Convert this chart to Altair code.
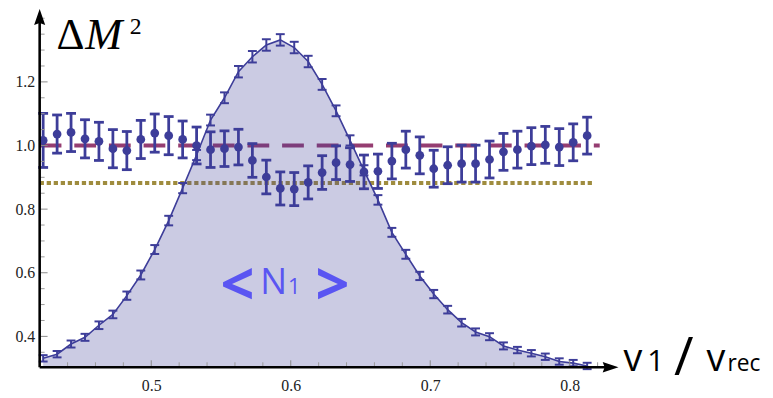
import altair as alt
import pandas as pd

# ---------------- data ----------------
x_vals = [0.4225, 0.4325, 0.4425, 0.4525, 0.4625, 0.4725, 0.4825, 0.4925, 0.5025, 0.5125,
          0.5225, 0.5325, 0.5425, 0.5525, 0.5625, 0.5725, 0.5825, 0.5925, 0.6025, 0.6125,
          0.6225, 0.6325, 0.6425, 0.6525, 0.6625, 0.6725, 0.6825, 0.6925, 0.7025, 0.7125,
          0.7225, 0.7325, 0.7425, 0.7525, 0.7625, 0.7725, 0.7825, 0.7925, 0.8025, 0.8125]

curve_vals = [0.331, 0.344, 0.376, 0.397, 0.435, 0.469, 0.528, 0.593, 0.673, 0.764,
              0.866, 0.970, 1.080, 1.150, 1.232, 1.279, 1.316, 1.332, 1.308, 1.264,
              1.192, 1.109, 1.016, 0.922, 0.829, 0.727, 0.658, 0.590, 0.533, 0.484,
              0.443, 0.414, 0.399, 0.370, 0.357, 0.347, 0.336, 0.321, 0.316, 0.307]

curve_err = [0.010, 0.010, 0.011, 0.011, 0.012, 0.012, 0.013, 0.014, 0.014, 0.015,
             0.016, 0.016, 0.017, 0.017, 0.018, 0.018, 0.018, 0.018, 0.018, 0.018,
             0.017, 0.017, 0.016, 0.016, 0.015, 0.014, 0.014, 0.013, 0.013, 0.012,
             0.012, 0.011, 0.011, 0.011, 0.010, 0.010, 0.010, 0.010, 0.010, 0.010]

scatter_vals = [1.016, 1.036, 1.041, 1.021, 1.013, 0.990, 0.984, 1.019, 1.039, 1.031,
                1.019, 1.000, 0.987, 0.990, 0.995, 0.953, 0.901, 0.865, 0.863, 0.884,
                0.915, 0.946, 0.940, 0.917, 0.919, 0.951, 0.987, 0.969, 0.927, 0.938,
                0.943, 0.943, 0.956, 0.980, 0.987, 0.998, 1.002, 0.995, 1.010, 1.031]

scatter_err = [0.085, 0.060, 0.060, 0.060, 0.060, 0.060, 0.060, 0.060, 0.060, 0.060,
               0.058, 0.058, 0.056, 0.056, 0.056, 0.053, 0.053, 0.052, 0.052, 0.052,
               0.053, 0.053, 0.053, 0.053, 0.054, 0.056, 0.058, 0.058, 0.058, 0.058,
               0.058, 0.058, 0.058, 0.058, 0.058, 0.058, 0.058, 0.058, 0.058, 0.058]

dash_level = 1.0
dot_level = 0.882
line_start = 0.42
dash_end = 0.8215
dot_end = 0.8166

y_major = [0.4, 0.6, 0.8, 1.0, 1.2]
y_minor = [0.35, 0.45, 0.5, 0.55, 0.65, 0.7, 0.75, 0.85, 0.9, 0.95,
           1.05, 1.1, 1.15, 1.25, 1.3, 1.35, 1.4]
x_major = [0.5, 0.6, 0.7, 0.8]
x_minor = [0.44, 0.46, 0.48, 0.52, 0.54, 0.56, 0.58, 0.62, 0.64, 0.66, 0.68,
           0.72, 0.74, 0.76, 0.78, 0.82]

XMIN, XMAX = 0.42, 0.94
YMIN, YMAX = 0.303, 1.4259
X_AXIS_END = 0.826
Y_AXIS_END = 1.40
X_ARROW = 0.8293
Y_ARROW = 1.404

BLUE = "#3D3D99"
MAGENTA = "#953D71"
OLIVE = "#9F8C3E"
LABEL_BLUE = "#5A55F2"
SERIF = "'Liberation Serif', 'Times New Roman', serif"
SANS = "'Open Sans', Lato, sans-serif"

# ---------------- frames ----------------
df = pd.DataFrame({
    "x": x_vals,
    "curve": curve_vals,
    "c_lo": [v - e for v, e in zip(curve_vals, curve_err)],
    "c_hi": [v + e for v, e in zip(curve_vals, curve_err)],
    "s": scatter_vals,
    "s_lo": [v - e for v, e in zip(scatter_vals, scatter_err)],
    "s_hi": [v + e for v, e in zip(scatter_vals, scatter_err)],
})

xs = alt.Scale(domain=[XMIN, XMAX], nice=False, zero=False)
ys = alt.Scale(domain=[YMIN, YMAX], nice=False, zero=False)

x_axis = alt.Axis(values=x_major, format=".1f", domain=False, ticks=False, tickSize=0,
                  grid=False, title=None, labelFont=SERIF, labelFontSize=16,
                  labelColor="#222222", labelPadding=24, labelBaseline="alphabetic")
y_axis = alt.Axis(values=y_major, format=".1f", domain=False, ticks=False, tickSize=0,
                  grid=False, title=None, labelFont=SERIF, labelFontSize=16,
                  labelColor="#222222", labelPadding=5)

X = alt.X("x:Q", scale=xs, axis=x_axis)

hlines = pd.DataFrame({"y": [dash_level], "x1": [line_start], "x2": [dash_end]})
dlines = pd.DataFrame({"y": [dot_level], "x1": [line_start], "x2": [dot_end]})

dotted = alt.Chart(dlines).mark_rule(color=OLIVE, strokeWidth=4, strokeDash=[4.3, 2.8]).encode(
    x=alt.X("x1:Q", scale=xs), x2="x2:Q", y=alt.Y("y:Q", scale=ys))
dashed = alt.Chart(hlines).mark_rule(color=MAGENTA, strokeWidth=4, strokeDash=[22, 13]).encode(
    x=alt.X("x1:Q", scale=xs), x2="x2:Q", y=alt.Y("y:Q", scale=ys))

area = alt.Chart(df).mark_area(color=BLUE, opacity=0.27).encode(
    x=X, y=alt.Y("curve:Q", scale=ys, axis=y_axis), y2=alt.datum(YMIN))
line = alt.Chart(df).mark_line(color=BLUE, strokeWidth=1.6).encode(
    x=alt.X("x:Q", scale=xs), y=alt.Y("curve:Q", scale=ys))
c_bar = alt.Chart(df).mark_rule(color=BLUE, strokeWidth=2).encode(
    x=alt.X("x:Q", scale=xs), y=alt.Y("c_lo:Q", scale=ys), y2="c_hi:Q")
c_cap_lo = alt.Chart(df).mark_rule(color=BLUE, strokeWidth=2, xOffset=-4.5, x2Offset=4.5).encode(
    x=alt.X("x:Q", scale=xs), x2="x:Q", y=alt.Y("c_lo:Q", scale=ys))
c_cap_hi = alt.Chart(df).mark_rule(color=BLUE, strokeWidth=2, xOffset=-4.5, x2Offset=4.5).encode(
    x=alt.X("x:Q", scale=xs), x2="x:Q", y=alt.Y("c_hi:Q", scale=ys))

s_bar = alt.Chart(df).mark_rule(color=BLUE, strokeWidth=2.8).encode(
    x=alt.X("x:Q", scale=xs), y=alt.Y("s_lo:Q", scale=ys), y2="s_hi:Q")
s_cap_lo = alt.Chart(df).mark_rule(color=BLUE, strokeWidth=2.8, xOffset=-5, x2Offset=5).encode(
    x=alt.X("x:Q", scale=xs), x2="x:Q", y=alt.Y("s_lo:Q", scale=ys))
s_cap_hi = alt.Chart(df).mark_rule(color=BLUE, strokeWidth=2.8, xOffset=-5, x2Offset=5).encode(
    x=alt.X("x:Q", scale=xs), x2="x:Q", y=alt.Y("s_hi:Q", scale=ys))
s_pts = alt.Chart(df).mark_circle(color=BLUE, size=78, opacity=1).encode(
    x=alt.X("x:Q", scale=xs), y=alt.Y("s:Q", scale=ys))

# ticks (inside), drawn as short rules
ymaj_df = pd.DataFrame({"v": y_major})
ymin_df = pd.DataFrame({"v": y_minor})
xmaj_df = pd.DataFrame({"v": x_major})
xmin_df = pd.DataFrame({"v": x_minor})
y_tmaj = alt.Chart(ymaj_df).mark_rule(color="#8a8a8a", strokeWidth=1).encode(
    y=alt.Y("v:Q", scale=ys), x=alt.value(0), x2=alt.value(8))
y_tmin = alt.Chart(ymin_df).mark_rule(color="#9a9a9a", strokeWidth=1).encode(
    y=alt.Y("v:Q", scale=ys), x=alt.value(0), x2=alt.value(5))
x_tmaj = alt.Chart(xmaj_df).mark_rule(color="#8a8a8a", strokeWidth=1).encode(
    x=alt.X("v:Q", scale=xs), y=alt.value(361), y2=alt.value(354))
x_tmin = alt.Chart(xmin_df).mark_rule(color="#9a9a9a", strokeWidth=1).encode(
    x=alt.X("v:Q", scale=xs), y=alt.value(361), y2=alt.value(356))

# axis lines with arrows
ax_df = pd.DataFrame({"x0": [XMIN], "x1": [X_AXIS_END], "y0": [YMIN], "y1": [Y_AXIS_END],
                      "xa": [X_ARROW], "ya": [Y_ARROW]})
y_line = alt.Chart(ax_df).mark_rule(color="black", strokeWidth=2.6).encode(
    x=alt.X("x0:Q", scale=xs), y=alt.Y("y0:Q", scale=ys), y2="y1:Q")
x_line = alt.Chart(ax_df).mark_rule(color="black", strokeWidth=2.6).encode(
    x=alt.X("x0:Q", scale=xs), x2="x1:Q", y=alt.Y("y0:Q", scale=ys))
y_arrow = alt.Chart(ax_df).mark_point(shape="M0,-1L0.7,1L0,0.75L-0.7,1Z", filled=True,
                                      color="black", opacity=1, size=256).encode(
    x=alt.X("x0:Q", scale=xs), y=alt.Y("ya:Q", scale=ys))
x_arrow = alt.Chart(ax_df).mark_point(shape="M1,0L-1,0.65L-0.75,0L-1,-0.65Z", filled=True,
                                      color="black", opacity=1, size=256).encode(
    x=alt.X("xa:Q", scale=xs), y=alt.Y("y0:Q", scale=ys))

# ---------------- texts ----------------
def txt(s, x, y, size, font, color="black", style="normal", weight="normal",
        align="left", baseline="alphabetic"):
    return alt.Chart(pd.DataFrame({"t": [s]})).mark_text(
        font=font, fontSize=size, fontStyle=style, fontWeight=weight, color=color,
        align=align, baseline=baseline).encode(
        text="t:N", x=alt.value(x), y=alt.value(y))

texts = [
    txt("Δ", 17, 39, 44, SERIF),
    txt("M", 46, 39, 45, SERIF, style="italic"),
    txt("2", 91, 24, 24, SERIF),
    txt("v", 590, 365, 38, SANS),
    txt("1", 614, 365, 30, SANS),
    txt("/", 641, 369, 54, SANS),
    txt("v", 674, 365, 38, SANS),
    txt("rec", 695, 365, 23, SANS),
    txt("<", 200, 280, 60, SANS, color=LABEL_BLUE, weight="bold", align="center", baseline="middle"),
    txt("N", 223, 287, 36, SANS, color=LABEL_BLUE),
    txt("1", 251, 287, 22, SANS, color=LABEL_BLUE),
    txt(">", 296, 280, 60, SANS, color=LABEL_BLUE, weight="bold", align="center", baseline="middle"),
]

chart = alt.layer(
    dotted, dashed, area, line, c_bar, c_cap_lo, c_cap_hi,
    s_bar, s_cap_lo, s_cap_hi, s_pts,
    y_tmaj, y_tmin, x_tmaj, x_tmin, y_line, x_line, y_arrow, x_arrow,
    *texts
).properties(
    width=733, height=361,
    autosize=alt.AutoSizeParams(type="none"),
    padding={"left": 32, "top": 0, "right": 0, "bottom": 24},
    background="white",
).configure_view(stroke=None)

chart.save("out.html", embed_options={"renderer": "svg", "actions": False})
